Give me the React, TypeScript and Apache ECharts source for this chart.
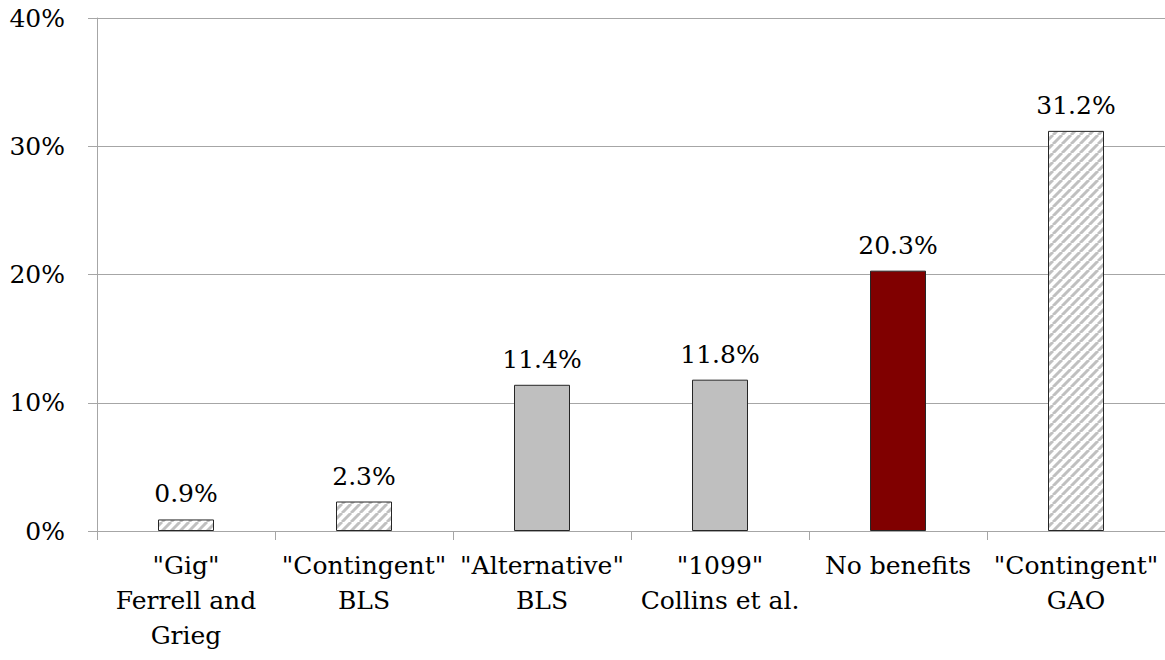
import React, { useEffect, useRef } from "react";
import * as echarts from "echarts";

const categories = [
  '"Gig"\nFerrell and\nGrieg',
  '"Contingent"\nBLS',
  '"Alternative"\nBLS',
  '"1099"\nCollins et al.',
  "No benefits",
  '"Contingent"\nGAO',
];
const values = [0.9, 2.3, 11.4, 11.8, 20.3, 31.2];
// fill style per bar: hatched, solid gray, or highlighted
const fills = ["hatch", "hatch", "gray", "gray", "red", "hatch"];
const yTicks = [0, 10, 20, 30, 40];

const FONT = "DejaVu Serif";
const FONT_SIZE = 25;

function makeHatch(): HTMLCanvasElement {
  const s = 9;
  const c = document.createElement("canvas");
  c.width = s;
  c.height = s;
  const ctx = c.getContext("2d")!;
  ctx.fillStyle = "#ffffff";
  ctx.fillRect(0, 0, s, s);
  ctx.strokeStyle = "#c0c0c0";
  ctx.lineWidth = 3;
  for (const k of [-s, 0, s]) {
    ctx.beginPath();
    ctx.moveTo(k, s);
    ctx.lineTo(k + s, 0);
    ctx.stroke();
  }
  return c;
}

export default function App() {
  const ref = useRef<HTMLDivElement>(null);

  useEffect(() => {
    if (!ref.current) return;
    const chart = echarts.init(ref.current, null, { renderer: "svg" });
    const hatch = makeHatch();
    const colorFor = (f: string) =>
      f === "hatch"
        ? { image: hatch, repeat: "repeat" }
        : f === "red"
        ? "#800000"
        : "#bfbfbf";

    chart.setOption({
      animation: false,
      textStyle: { fontFamily: FONT },
      grid: { left: 97, top: 18, width: 1074, height: 513, containLabel: false },
      xAxis: {
        type: "category",
        data: categories,
        axisLine: { lineStyle: { color: "#a6a6a6", width: 1 } },
        axisTick: { show: true, length: 9, lineStyle: { color: "#a6a6a6" } },
        axisLabel: {
          color: "#000",
          fontFamily: FONT,
          fontSize: FONT_SIZE,
          lineHeight: 35,
          margin: 17,
          interval: 0,
        },
      },
      yAxis: {
        type: "value",
        min: yTicks[0],
        max: yTicks[yTicks.length - 1],
        interval: 10,
        axisLine: { show: true, lineStyle: { color: "#a6a6a6", width: 1 } },
        axisTick: { show: true, length: 9, lineStyle: { color: "#a6a6a6" } },
        splitLine: { lineStyle: { color: "#a6a6a6", width: 1 } },
        axisLabel: {
          color: "#000",
          fontFamily: FONT,
          fontSize: FONT_SIZE,
          margin: 32,
          formatter: (v: number) => `${v}%`,
        },
      },
      series: [
        {
          type: "bar",
          barWidth: 56,
          data: values.map((v, i) => ({
            value: v,
            itemStyle: {
              color: colorFor(fills[i]),
              borderColor: "#262626",
              borderWidth: 1,
            },
          })),
          label: {
            show: true,
            position: "top",
            distance: 13,
            color: "#000",
            fontFamily: FONT,
            fontSize: FONT_SIZE,
            formatter: (p: any) => `${p.value.toFixed(1)}%`,
          },
        },
      ],
    });
    return () => chart.dispose();
  }, []);

  return (
    <div
      ref={ref}
      style={{ position: "absolute", left: 0, top: 0, width: 1165, height: 660, background: "#fff" }}
    />
  );
}
